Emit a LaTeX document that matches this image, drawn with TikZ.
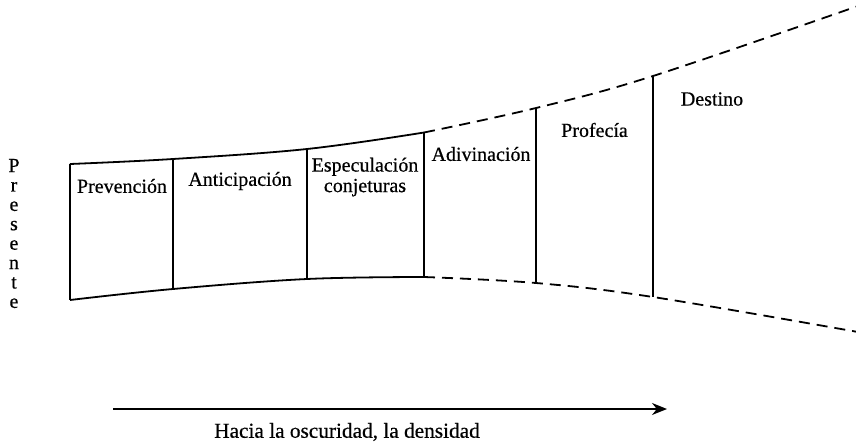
\documentclass[tikz,border=0pt]{standalone}
\usepackage{fontspec}
\setmainfont{Liberation Serif}
\newfontfamily\heavyfont{Liberation Serif}[FakeBold=0.5]
\usetikzlibrary{arrows.meta}
\begin{document}
\begin{tikzpicture}[x=1pt,y=-1pt,
  edge/.style={line width=1.8pt, line join=round},
  dashedge/.style={line width=1.8pt, dash pattern=on 11pt off 7pt},
  lbl/.style={inner sep=0pt, font=\heavyfont\fontsize{20}{20.5}\selectfont, align=center}]
\useasboundingbox (0,0) rectangle (856,442);
% top boundary points
\coordinate (t0) at (70,164);
\coordinate (t1) at (173,159);
\coordinate (t2) at (307,149);
\coordinate (t3) at (424,132.5);
\coordinate (t4) at (536,108);
\coordinate (t5) at (653,76);
\coordinate (t6) at (858,6);
% bottom boundary points
\coordinate (b0) at (70,300);
\coordinate (b1) at (173,289);
\coordinate (b2) at (307,279);
\coordinate (b3) at (424,277);
\coordinate (b4) at (536,283);
\coordinate (b5) at (653,297);
\coordinate (b6) at (858,332);
% solid part
\draw[edge] plot[smooth, tension=0.6] coordinates {(t0) (t1) (t2) (t3)};
\draw[edge] plot[smooth, tension=0.6] coordinates {(b0) (b1) (b2) (b3)};
% dashed part
\draw[dashedge] plot[smooth, tension=0.6] coordinates {(t3) (t4) (t5) (t6)};
\draw[dashedge] plot[smooth, tension=0.6] coordinates {(b3) (b4) (b5) (b6)};
% dividers
\foreach \i in {0,...,5} \draw[edge] (t\i) -- (b\i);
% labels
\node[lbl] (prev) at (122,186) {Prevención};
\node[lbl] (anti) at (240,181) {Anticipación};
\node[lbl] (espe) at (365,177) {Especulación\\conjeturas};
\node[lbl] (adiv) at (481,154) {Adivinación};
\node[lbl] (prof) at (594.5,130) {Profecía};
\node[lbl] (dest) at (712,99) {Destino};
\node[inner sep=0pt, align=center, font=\heavyfont\fontsize{20}{19.4}\selectfont] (pres) at (14,233.5) {P\\r\\e\\s\\e\\n\\t\\e};
% arrow
\coordinate (a0) at (113,409);
\coordinate (a1) at (667,409);
\draw[line width=1.8pt, -{Stealth[length=15pt,width=12pt]}] (a0) -- (a1);
\node[lbl, font=\heavyfont\fontsize{21.3}{22}\selectfont] (hacia) at (347,432) {Hacia la oscuridad, la densidad};
\end{tikzpicture}
\end{document}
